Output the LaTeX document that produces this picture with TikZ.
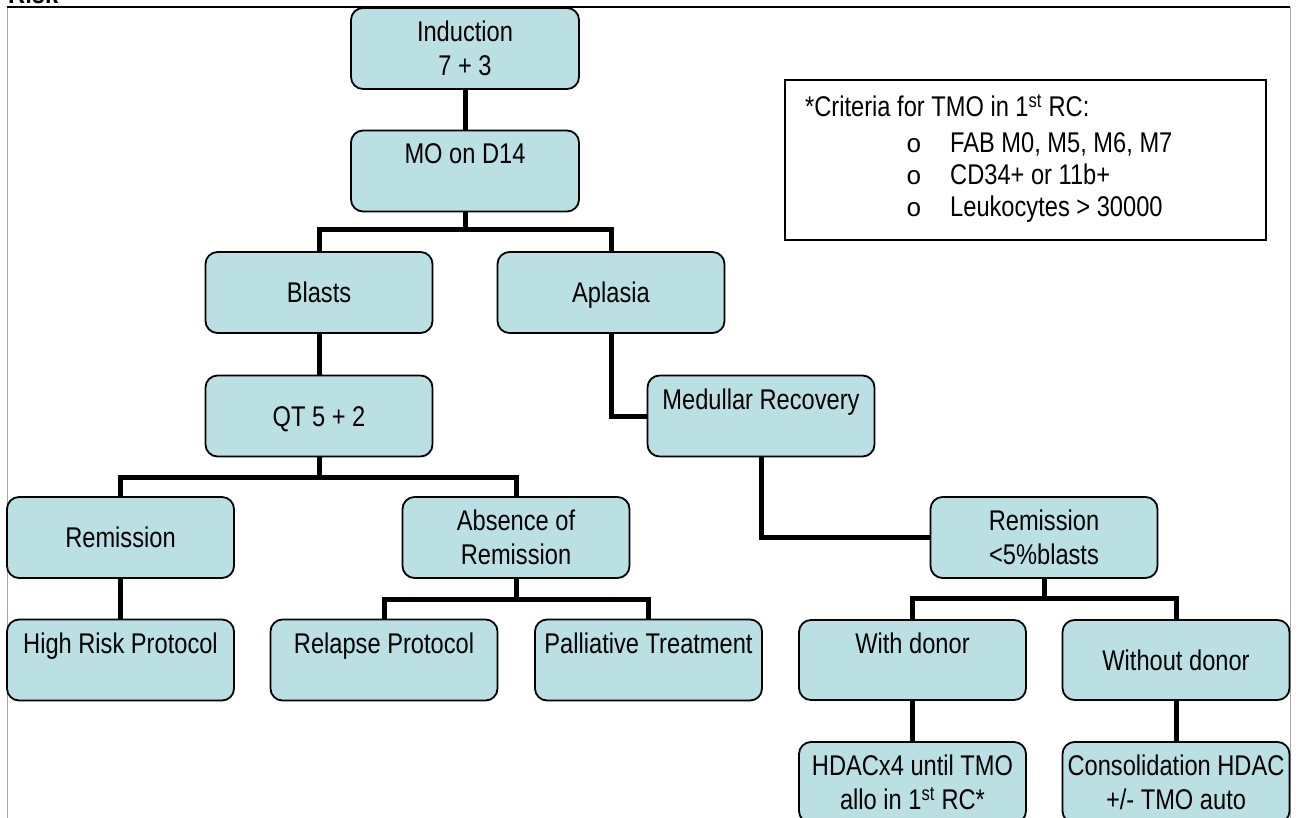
\documentclass[tikz,border=0pt]{standalone}
\usepackage{fontspec}
\setmainfont{Liberation Sans}[FakeStretch=0.83]
\newfontfamily\bulletfont{Liberation Mono}
\newcommand\diagfont{\fontsize{28.5}{34}\selectfont}
\definecolor{boxfill}{RGB}{187,224,227}
\begin{document}
\begin{tikzpicture}[x=1pt,y=-1pt,
  flowbox/.style={draw=black, line width=1.8pt, rounded corners=12pt, fill=boxfill,
    minimum width=227pt, minimum height=81pt, inner sep=0pt, align=center, font=\diagfont},
  oneline/.style={text height=20.5pt, text depth=0pt},
  critbox/.style={draw=black, line width=1.8pt, fill=white, minimum width=481pt,
    minimum height=160pt, inner sep=0pt},
  crittext/.style={anchor=base west, inner sep=0pt, font=\diagfont},
  bullet/.style={anchor=base west, inner sep=0pt, font=\fontsize{26}{30}\bulletfont},
  conn/.style={line width=5pt, line join=miter}]
\useasboundingbox (0,0) rectangle (1300,818);

% page frame and heading
\draw[gray!70, line width=1pt] (7,830) -- (7,7);
\draw[gray!70, line width=1pt] (1290,7) -- (1290,830);
\draw[black, line width=1.4pt] (7,7) -- (1290,7);
\node[anchor=base west, inner sep=0pt, font=\diagfont\bfseries] (title) at (8,4) {Risk};

% criteria note
\node[critbox] (crit) at (1025.5,160) {};
\node[crittext] (ct) at (805,117) {*Criteria for TMO in 1\textsuperscript{st} RC:};
\node[bullet] (o1) at (906,153) {o};
\node[bullet] (o2) at (906,185) {o};
\node[bullet] (o3) at (906,217) {o};
\node[crittext] (c1) at (950,153) {FAB M0, M5, M6, M7};
\node[crittext] (c2) at (950,185) {CD34+ or 11b+};
\node[crittext] (c3) at (950,217) {Leukocytes > 30000};

% flow boxes
\node[flowbox, minimum width=228pt] (ind) at (465,48.5) {Induction\\7 + 3};
\node[flowbox, minimum width=228pt] (mo) at (465,171) {MO on D14\\\mbox{}};
\node[flowbox, oneline] (bla) at (319,292.5) {Blasts};
\node[flowbox, oneline] (apl) at (611,292.5) {Aplasia};
\node[flowbox, oneline] (qt) at (319,416) {QT 5 + 2};
\node[flowbox] (med) at (761,416) {Medullar Recovery\\\mbox{}};
\node[flowbox, oneline] (rem) at (120.5,537.5) {Remission};
\node[flowbox] (abs) at (516,537.5) {Absence of\\Remission};
\node[flowbox] (rem5) at (1044,537.5) {Remission\\<5\%blasts};
\node[flowbox] (hrp) at (120.5,660) {High Risk Protocol\\\mbox{}};
\node[flowbox] (rel) at (384,660) {Relapse Protocol\\\mbox{}};
\node[flowbox] (pal) at (648.5,660) {Palliative Treatment\\\mbox{}};
\node[flowbox, minimum height=80pt] (wd) at (912.5,660) {With donor\\\mbox{}};
\node[flowbox, oneline, minimum height=80pt] (wod) at (1176,660) {Without donor};
\node[flowbox] (hdac) at (912.5,782.5) {HDACx4 until TMO\\allo in 1\textsuperscript{st} RC*};
\node[flowbox] (cons) at (1176,782.5) {Consolidation HDAC\\+/- TMO auto};

% junction points
\coordinate (j1) at (465,230);
\coordinate (j2) at (319,477);
\coordinate (j3) at (516,599);
\coordinate (j4) at (1044,598);

% connectors
\draw[conn] (ind.south) -- (mo.north);
\draw[conn] (mo.south) -- (j1);
\draw[conn] (bla.north) -- (bla.north |- j1) -- (apl.north |- j1) -- (apl.north);
\draw[conn] (bla.south) -- (qt.north);
\draw[conn] (qt.south) -- (j2);
\draw[conn] (rem.north) -- (rem.north |- j2) -- (abs.north |- j2) -- (abs.north);
\draw[conn] (rem.south) -- (hrp.north);
\draw[conn] (abs.south) -- (j3);
\draw[conn] (rel.north) -- (rel.north |- j3) -- (pal.north |- j3) -- (pal.north);
\draw[conn] (apl.south) |- (med.west);
\draw[conn] (med.south) |- (rem5.west);
\draw[conn] (rem5.south) -- (j4);
\draw[conn] (wd.north) -- (wd.north |- j4) -- (wod.north |- j4) -- (wod.north);
\draw[conn] (wd.south) -- (hdac.north);
\draw[conn] (wod.south) -- (cons.north);
\end{tikzpicture}
\end{document}
